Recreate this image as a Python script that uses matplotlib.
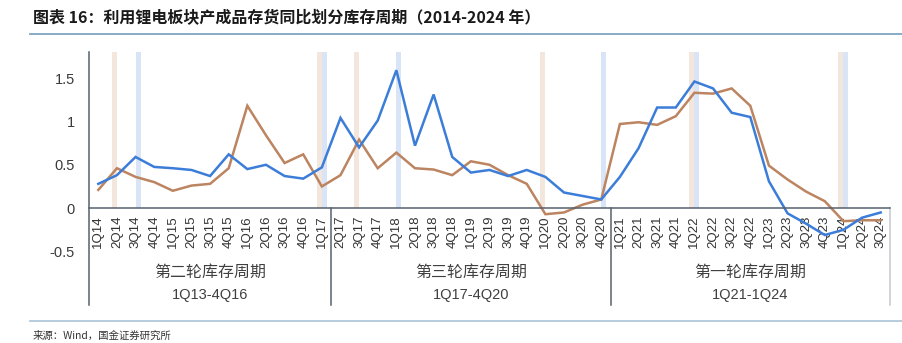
import matplotlib
matplotlib.use("Agg")
import matplotlib.pyplot as plt
from matplotlib.lines import Line2D
from matplotlib.transforms import blended_transform_factory

# Quarterly labels, 1Q14 - 3Q24
quarters = [
    "1Q14", "2Q14", "3Q14", "4Q14", "1Q15", "2Q15", "3Q15", "4Q15",
    "1Q16", "2Q16", "3Q16", "4Q16", "1Q17", "2Q17", "3Q17", "4Q17",
    "1Q18", "2Q18", "3Q18", "4Q18", "1Q19", "2Q19", "3Q19", "4Q19",
    "1Q20", "2Q20", "3Q20", "4Q20", "1Q21", "2Q21", "3Q21", "4Q21",
    "1Q22", "2Q22", "3Q22", "4Q22", "1Q23", "2Q23", "3Q23", "4Q23",
    "1Q24", "2Q24", "3Q24",
]

# Inventory YoY series
blue_series = [
    0.28, 0.38, 0.59, 0.475, 0.46, 0.44, 0.37, 0.62, 0.45, 0.50, 0.37, 0.34, 0.47,
    1.04, 0.70, 1.01, 1.59, 0.72, 1.31, 0.59, 0.41, 0.44, 0.37, 0.44, 0.36, 0.18, 0.14, 0.10,
    0.36, 0.69, 1.16, 1.16, 1.46, 1.38, 1.10, 1.05, 0.31, -0.06, -0.18, -0.31, -0.25, -0.11, -0.05,
]
brown_series = [
    0.21, 0.46, 0.36, 0.30, 0.20, 0.26, 0.28, 0.46, 1.18, 0.84, 0.52, 0.62, 0.25,
    0.38, 0.79, 0.46, 0.64, 0.46, 0.445, 0.38, 0.54, 0.50, 0.38, 0.28, -0.07, -0.05, 0.04, 0.10,
    0.97, 0.99, 0.96, 1.06, 1.33, 1.32, 1.38, 1.18, 0.49, 0.33, 0.19, 0.08, -0.15, -0.14, -0.14,
]

# Turning-point markers (narrow shaded bands)
beige_marks = ["2Q14", "1Q17", "3Q17", "1Q20", "1Q22", "1Q24"]
blue_marks = ["3Q14", "1Q17", "1Q18", "4Q20", "1Q22", "1Q24"]

# Cycle groups: (first label, last label, name, span text)
cycle_groups = [
    ("1Q14", "1Q17", "第二轮库存周期", "1Q13-4Q16"),
    ("2Q17", "4Q20", "第三轮库存周期", "1Q17-4Q20"),
    ("1Q21", "3Q24", "第一轮库存周期", "1Q21-1Q24"),
]

y_min, y_max = -0.5, 1.8
y_ticks = [-0.5, 0, 0.5, 1, 1.5]
y_tick_labels = ["-0.5", "0", "0.5", "1", "1.5"]

CJK = ["Noto Sans CJK SC", "DejaVu Sans"]
LAT = ["Liberation Sans", "DejaVu Sans"]

W, H = 903, 343
fig = plt.figure(figsize=(W / 100, H / 100), dpi=100)
fig.patch.set_facecolor("white")


def fx(px):
    return px / W


def fy(py):
    return 1 - py / H


left_px, right_px, top_px, bot_px = 89, 890, 52, 251.5
ax = fig.add_axes([fx(left_px), fy(bot_px), fx(right_px - left_px), (bot_px - top_px) / H])

x = list(range(len(quarters)))
idx = {q: i for i, q in enumerate(quarters)}

band_w = 0.27
ax.bar([idx[q] for q in beige_marks], [y_max] * len(beige_marks), width=-band_w,
       align="edge", color="#F2E6DD", zorder=1)
ax.bar([idx[q] for q in blue_marks], [y_max] * len(blue_marks), width=band_w,
       align="edge", color="#D9E5F6", zorder=1)

ax.plot(x, brown_series, color="#BC8460", lw=1.8, zorder=3, solid_joinstyle="miter")
ax.plot(x, blue_series, color="#3B7DD8", lw=1.8, zorder=4, solid_joinstyle="miter")

ax.set_xlim(-0.5, len(quarters) - 0.5)
ax.set_ylim(y_min, y_max)

for s in ["top", "right", "left"]:
    ax.spines[s].set_visible(False)
ax.spines["bottom"].set_position(("data", 0))
ax.spines["bottom"].set_color("#56606E")
ax.spines["bottom"].set_linewidth(1.1)
ax.spines["bottom"].set_zorder(5)

ax.set_xticks(x)
ax.set_xticklabels(quarters, rotation=90, fontsize=9.5, family=LAT, color="#333333")
ax.tick_params(axis="x", length=0, pad=5.5)
ax.set_yticks(y_ticks)
ax.set_yticklabels(y_tick_labels, fontsize=10.5, family=LAT, color="#3A3A3A")
ax.tick_params(axis="y", length=0, pad=10)

# Category box below the axis
box_bottom = fy(305)
tr = blended_transform_factory(ax.transData, fig.transFigure)
ax.add_line(Line2D([-0.5, -0.5], [fy(top_px), box_bottom], transform=tr,
                   color="#56606E", lw=1.1, clip_on=False, zorder=5))
zero_fig = fig.transFigure.inverted().transform(ax.transData.transform((0, 0)))[1]
for g_first, g_last, name, span in cycle_groups:
    a, b = idx[g_first] - 0.5, idx[g_last] + 0.5
    edge_col = "#C5CAD0" if b >= len(quarters) - 0.5 else "#56606E"
    ax.add_line(Line2D([b, b], [zero_fig, box_bottom], transform=tr,
                       color=edge_col, lw=1.1, clip_on=False, zorder=5))
    c = (a + b) / 2
    ax.text(c, fy(272), name, transform=tr, ha="center", va="center",
            fontsize=11.5, family=CJK, color="#404040")
    ax.text(c, fy(295), span, transform=tr, ha="center", va="center",
            fontsize=10.5, family=LAT, color="#404040")

# Header and footer
fig.text(fx(33), fy(18), "图表 16：利用锂电板块产成品存货同比划分库存周期（2014-2024 年）",
         ha="left", va="center", fontsize=11.5, fontweight="bold", family=CJK, color="#1A1A1A")
fig.add_artist(Line2D([fx(30), fx(903)], [fy(34), fy(34)], color="#7EA6C2", lw=1.3))
fig.add_artist(Line2D([fx(30), fx(903)], [fy(321), fy(321)], color="#A9C4D8", lw=1.2))
fig.text(fx(33), fy(336), "来源：Wind，国金证券研究所", ha="left", va="center",
         fontsize=7.5, family=CJK, color="#333333")

fig.savefig("out.png", dpi=100, facecolor="white")
